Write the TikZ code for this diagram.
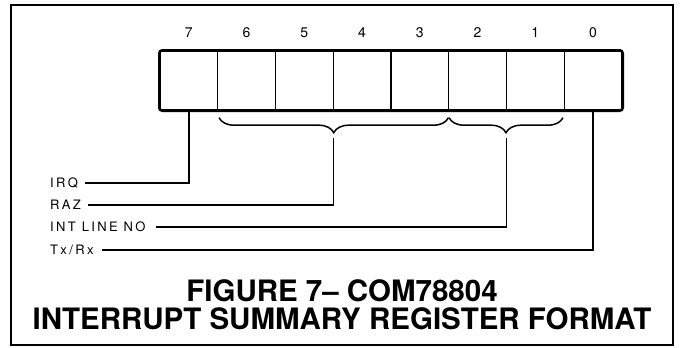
\documentclass[tikz,border=0pt]{standalone}
\usepackage{fontspec}
\setmainfont{TeX Gyre Heros}
\usetikzlibrary{positioning, decorations.pathreplacing, calc}
\tikzset{
  cellbox/.style={draw, line width=1.4pt, minimum width=57.75pt, minimum height=59pt, inner sep=0pt},
  bitnum/.style={font=\fontsize{14}{16}\selectfont, inner sep=0pt},
  fieldlbl/.style={anchor=west, inner sep=0pt, font=\fontsize{13}{14}\selectfont\addfontfeature{LetterSpace=18}},
  lead/.style={line width=1.5pt},
  regbrace/.style={decorate, decoration={brace, mirror, amplitude=15pt}, line width=1.5pt},
  titletext/.style={font=\fontsize{29.5}{30}\selectfont\bfseries, inner sep=0pt},
}

\begin{document}
\begin{tikzpicture}[x=1pt, y=-1pt]
  \useasboundingbox (0,0) rectangle (680,348);
  % outer frame
  \draw[line width=1.8pt] (11,5) rectangle (673,345);

  % register cells, bit 7 on the left
  \foreach \b [count=\k from 0] in {7,...,0} {
    \node[cellbox] (bit\b) at ({160+57.75*(\k+0.5)}, 80.5) {};
    \node[bitnum] (num\b) at ({160+57.75*(\k+0.5)}, 33) {\b};
  }
  \draw[line width=2.6pt, rounded corners=3pt] (bit7.north west) rectangle (bit0.south east);

  % braces under the grouped fields
  \draw[regbrace] ([xshift=2pt, yshift=-7pt]bit6.south west) -- ([xshift=-1pt, yshift=-7pt]bit3.south east);
  \draw[regbrace] ([xshift=1pt, yshift=-7pt]bit2.south west) -- ([xshift=-2pt, yshift=-7pt]bit1.south east);
  \coordinate (tip1) at ($(bit6.south west)!0.5!(bit3.south east) + (0,27)$);
  \coordinate (tip2) at ($(bit2.south west)!0.5!(bit1.south east) + (0,27)$);

  % field names
  \node[fieldlbl] (irq) at (50,183) {IRQ};
  \node[fieldlbl] (raz) at (50,205) {RAZ};
  \node[fieldlbl] (intline) at (50,227) {INT LINE NO};
  \node[fieldlbl] (txrx) at (50,250) {Tx/Rx};

  \draw[lead] (bit7.south) |- ([xshift=7pt]irq.east);
  \draw[lead] (tip1) |- ([xshift=7pt]raz.east);
  \draw[lead] (tip2) |- ([xshift=10pt]intline.east);
  \draw[lead] (bit0.south) |- ([xshift=8pt]txrx.east);

  \node[titletext] (title1) at (342,291) {FIGURE 7– COM78804};
  \node[titletext] (title2) at (342,319) {INTERRUPT SUMMARY REGISTER FORMAT};
\end{tikzpicture}
\end{document}
